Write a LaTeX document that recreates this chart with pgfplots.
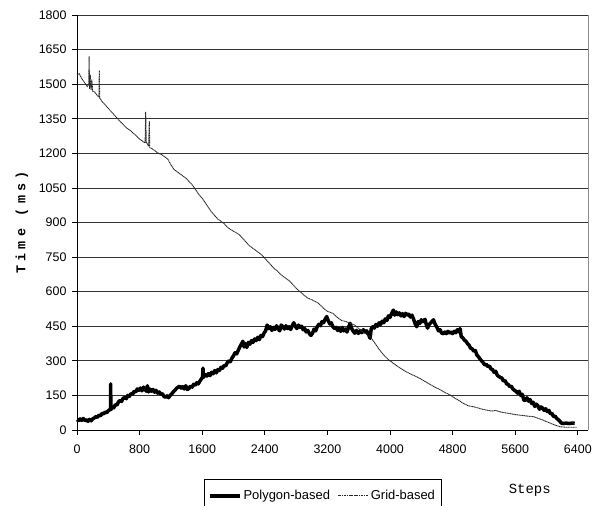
\documentclass[border=0pt]{standalone}
\usepackage{pgfplots}
\pgfplotsset{compat=1.18}
\usepackage{fontspec}
\setmainfont{Liberation Sans}
\newfontfamily\monofont{Liberation Mono}

\begin{document}
\begin{tikzpicture}
\path[use as bounding box] (-77bp,-76bp) rectangle (525bp,430bp);
\begin{axis}[
    scale only axis,
    width=511bp, height=415bp,
    xmin=0, xmax=6530, ymin=0, ymax=1800,
    xtick={0,800,...,6400},
    ytick={0,150,...,1800},
    axis lines*=left,
    axis line style={black, line width=0.8bp},
    tick align=outside,
    major tick length=5bp,
    tick style={black, line width=0.8bp},
    ymajorgrids,
    major grid style={black!80, line width=0.8bp},
    /pgf/number format/assume math mode=true,
    /pgf/number format/set thousands separator={},
    tick label style={font=\fontsize{12.5}{14}\selectfont},
    xticklabel style={yshift=-6bp},
    yticklabel style={xshift=-2bp},
    ylabel={\monofont\bfseries\addfontfeatures{LetterSpace=32}Time (ms)},
    ylabel style={font=\fontsize{13.5}{15}\selectfont, at={(axis description cs:-0.1076,0.5)}, anchor=center},
    legend columns=2,
    legend style={at={(245.5bp,-49bp)}, anchor=north, draw=black, line width=0.8bp,
        font=\fontsize{13}{15}\selectfont, inner xsep=4bp, inner ysep=9bp,
        /tikz/every even column/.append style={column sep=6bp}},
    legend image code/.code={\draw[#1] (0bp,0bp) -- (30bp,0bp);},
    clip=false,
]
\addplot[black, line width=3.5bp, line join=round] coordinates {
(0,45)(20,40)(40,48)(60,42)(80,50)(100,41)(120,44)(140,38)(160,46)(180,40)(200,48)
(220,52)(240,58)(260,55)(280,64)(300,62)(320,72)(340,70)(360,78)(380,75)(400,84)
(420,88)(428,92)(430,200)(433,88)(450,100)(470,96)(490,110)(510,108)(530,122)
(550,128)(570,124)(590,138)(610,140)(630,136)(650,150)(670,146)(690,158)(710,155)
(730,168)(750,165)(770,178)(790,172)(810,182)(830,170)(850,186)(870,175)(890,168)
(900,192)(915,165)(930,178)(950,168)(970,176)(990,164)(1010,172)(1030,160)
(1050,165)(1070,155)(1090,158)(1110,146)(1130,142)(1150,148)(1170,140)(1190,150)
(1210,156)(1230,165)(1250,172)(1270,180)(1290,185)(1310,190)(1330,182)(1350,188)
(1370,178)(1390,192)(1410,176)(1430,180)(1450,190)(1470,186)(1490,198)(1510,194)
(1530,205)(1550,200)(1570,212)(1590,222)(1605,230)(1610,268)(1615,228)(1640,240)
(1660,234)(1680,245)(1700,236)(1720,250)(1740,244)(1760,258)(1780,248)(1800,262)
(1820,258)(1840,272)(1860,268)(1880,280)(1900,278)(1920,292)(1940,300)(1960,296)
(1980,312)(2000,322)(2020,335)(2040,330)(2060,345)(2080,360)(2100,372)(2120,385)
(2135,360)(2150,375)(2170,358)(2190,380)(2210,372)(2230,388)(2250,380)(2270,395)
(2290,388)(2310,402)(2330,392)(2350,410)(2370,405)(2390,420)(2410,430)(2430,455)
(2450,440)(2470,448)(2490,432)(2510,445)(2530,436)(2550,452)(2570,440)(2590,430)
(2610,455)(2630,448)(2650,438)(2670,452)(2690,440)(2710,448)(2730,436)(2750,452)
(2770,465)(2790,450)(2810,440)(2830,455)(2850,445)(2870,450)(2890,435)(2910,440)
(2930,425)(2950,432)(2970,418)(2990,410)(3010,420)(3030,438)(3050,430)(3070,448)
(3090,458)(3110,452)(3130,470)(3150,465)(3170,480)(3191,492)(3210,475)(3230,460)
(3250,465)(3270,448)(3290,440)(3310,445)(3330,432)(3350,440)(3370,428)(3390,445)
(3410,430)(3430,438)(3450,425)(3470,445)(3490,463)(3510,440)(3530,428)(3550,420)
(3570,432)(3596,419)(3620,430)(3640,422)(3660,435)(3680,425)(3702,430)(3725,415)
(3745,398)(3760,440)(3780,448)(3800,442)(3820,458)(3840,450)(3860,465)(3880,458)
(3900,472)(3920,465)(3940,482)(3960,475)(3980,495)(4000,488)(4020,505)(4043,520)
(4060,498)(4080,512)(4100,500)(4120,508)(4140,495)(4160,505)(4180,492)(4200,506)
(4220,498)(4240,502)(4260,490)(4280,498)(4300,482)(4320,462)(4341,448)(4360,470)
(4380,462)(4400,478)(4420,470)(4448,480)(4465,455)(4480,442)(4500,458)(4520,465)
(4540,472)(4555,478)(4575,460)(4600,445)(4620,430)(4640,435)(4660,420)(4683,418)
(4700,425)(4720,418)(4740,428)(4760,420)(4780,425)(4800,418)(4820,428)(4840,422)
(4860,435)(4880,425)(4895,440)(4910,405)(4930,400)(4950,390)(4970,385)(4990,375)
(5010,368)(5030,355)(5050,352)(5070,342)(5090,345)(5110,325)(5130,318)(5150,308)
(5170,300)(5190,292)(5210,282)(5230,285)(5250,275)(5270,278)(5290,265)(5310,262)
(5330,250)(5350,255)(5370,238)(5390,232)(5410,228)(5430,225)(5450,212)(5470,215)
(5490,200)(5510,198)(5530,188)(5550,190)(5570,178)(5590,172)(5610,168)(5630,160)
(5650,168)(5670,150)(5690,155)(5710,130)(5730,128)(5750,140)(5770,125)(5790,132)
(5810,115)(5830,120)(5850,102)(5870,112)(5890,105)(5910,90)(5930,100)(5950,95)
(5970,85)(5990,92)(6010,80)(6030,85)(6050,70)(6070,72)(6090,58)(6110,60)(6130,50)
(6150,45)(6170,38)(6190,30)(6210,28)(6250,30)(6290,28)(6330,30)(6360,29)
};
\addlegendentry{Polygon-based}
\addplot[black!85, line width=0.9bp, dash pattern=on 1.2bp off 0.5bp] coordinates {
(0,1540) (30,1545) (60,1525) (100,1505) (130,1490) (150,1500) (155,1620)
(160,1480) (170,1540) (180,1475) (190,1520) (200,1470) (230,1465) (260,1450)
(280,1445) (285,1560) (290,1440) (320,1425) (360,1410) (400,1395) (440,1380)
(480,1365) (520,1350) (560,1335) (600,1322) (640,1308) (680,1300) (720,1287)
(760,1275) (800,1262) (840,1252) (870,1245) (878,1380) (885,1250) (915,1230)
(924,1340) (930,1225) (960,1220) (1000,1210) (1040,1200) (1080,1195)
(1120,1185) (1160,1175) (1200,1150) (1240,1130) (1280,1120) (1320,1110)
(1360,1100) (1400,1090) (1440,1075) (1480,1060) (1520,1040) (1560,1020)
(1600,1005) (1640,985) (1680,965) (1720,945) (1760,930) (1800,915) (1840,905)
(1880,895) (1920,880) (1960,870) (2000,862) (2040,855) (2080,845) (2120,830)
(2160,815) (2200,800) (2240,790) (2280,780) (2320,770) (2360,760) (2400,745)
(2440,730) (2480,715) (2520,700) (2560,690) (2600,675) (2640,665) (2680,655)
(2720,645) (2760,630) (2800,615) (2850,600) (2900,585) (2950,572) (3000,565)
(3084,550) (3150,528) (3200,515) (3276,505) (3320,490) (3380,475) (3440,470)
(3500,462) (3550,455) (3600,440) (3650,425) (3700,415) (3745,405) (3800,380)
(3860,350) (3920,325) (3980,305) (4043,289) (4100,275) (4160,262) (4220,250)
(4280,240) (4341,231) (4400,220) (4460,208) (4520,196) (4580,185) (4640,175)
(4700,163) (4767,152) (4820,140) (4880,128) (4940,115) (5000,105) (5065,101)
(5120,96) (5180,90) (5240,86) (5300,82) (5350,85) (5406,79) (5460,75)
(5520,72) (5580,68) (5640,65) (5700,63) (5760,60) (5832,58) (5880,52)
(5940,45) (6003,36) (6060,28) (6120,20) (6173,14) (6240,12) (6300,12) (6386,12)
};
\addlegendentry{Grid-based}
\draw[black!45, line width=0.8bp] (axis description cs:1,0) -- (axis description cs:1,1);
\node[font=\monofont\fontsize{14}{16}\selectfont] at (axis description cs:0.886,-0.145) {Steps};
\end{axis}
\end{tikzpicture}
\end{document}
